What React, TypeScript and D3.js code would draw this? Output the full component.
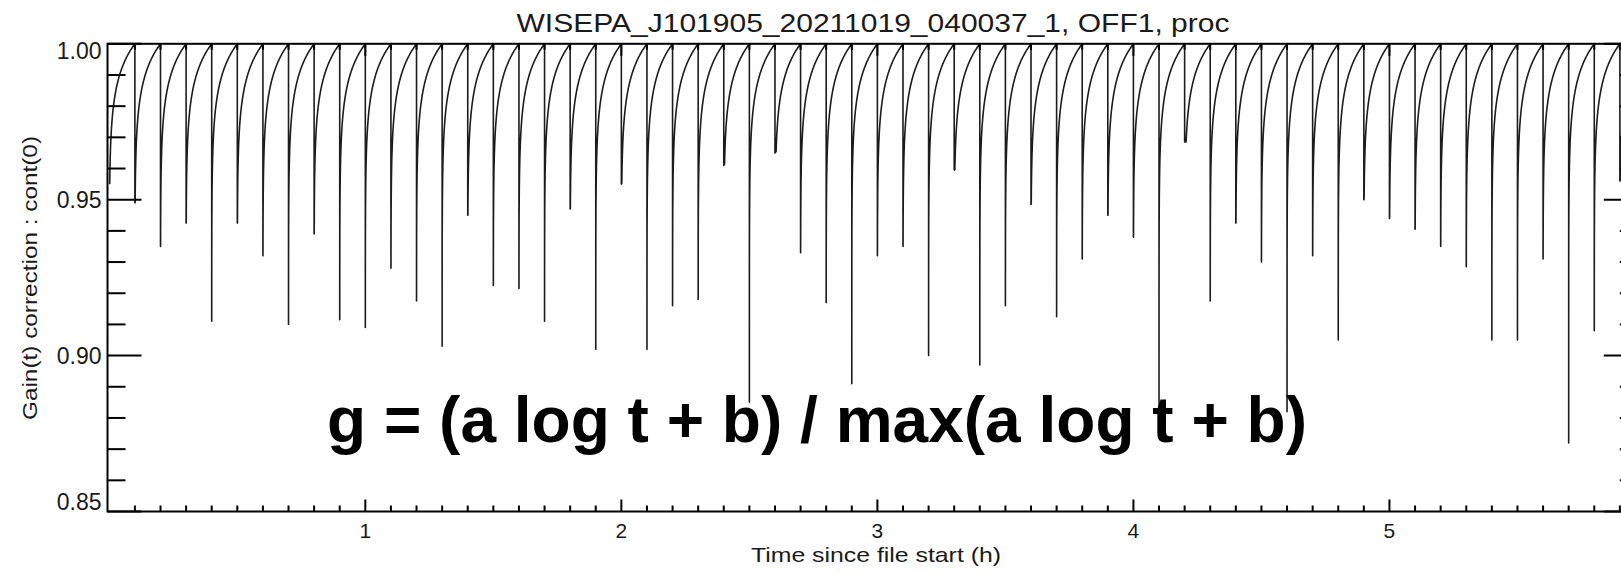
import React from 'react';
import * as d3 from 'd3';

// ---- data ----
const resetTimes = [
  0.0, 0.1, 0.2, 0.3, 0.4, 0.5, 0.6, 0.7, 0.8, 0.9,
  1.0, 1.1, 1.2, 1.3, 1.4, 1.5, 1.6, 1.7, 1.8, 1.9,
  2.0, 2.1, 2.2, 2.3, 2.4, 2.5, 2.6, 2.7, 2.8, 2.9,
  3.0, 3.1, 3.2, 3.3, 3.4, 3.5, 3.6, 3.7, 3.8, 3.9,
  4.0, 4.1, 4.2, 4.3, 4.4, 4.5, 4.6, 4.7, 4.8, 4.9,
  5.0, 5.1, 5.2, 5.3, 5.4, 5.5, 5.6, 5.7, 5.8, 5.9,
];
const dipValues = [
  0.955, 0.949, 0.935, 0.9425, 0.911, 0.9425, 0.932, 0.910, 0.939, 0.9115,
  0.909, 0.928, 0.9175, 0.903, 0.945, 0.9225, 0.9215, 0.911, 0.947, 0.902,
  0.955, 0.902, 0.916, 0.918, 0.961, 0.885, 0.965, 0.933, 0.917, 0.891,
  0.932, 0.935, 0.900, 0.9595, 0.897, 0.916, 0.9485, 0.9125, 0.931, 0.945,
  0.938, 0.882, 0.9685, 0.9175, 0.9425, 0.930, 0.882, 0.932, 0.905, 0.950,
  0.944, 0.9405, 0.935, 0.9285, 0.905, 0.905, 0.931, 0.872, 0.908, 0.956,
];
// g = (a log t + b) / max(a log t + b)
const gainA = 0.011;
const gainB = 1.0253;
const resetPeriod = 0.1;

const yMajorTicks = [0.85, 0.9, 0.95, 1.0];
const yTickLabels = ['0.85', '0.90', '0.95', '1.00'];
const xMajorTicks = [1, 2, 3, 4, 5];
const xTickLabels = ['1', '2', '3', '4', '5'];

const titleText = 'WISEPA_J101905_20211019_040037_1, OFF1, proc';
const xTitle = 'Time since file start (h)';
const yTitle = 'Gain(t) correction : cont(0)';
const annotation = 'g = (a log t + b) / max(a log t + b)';

// ---- layout ----
const W = 1621;
const H = 574;
const left = 107.5;
const right = 1637.8;
const top = 43.8;
const bottom = 511.5;
const FONT = "'Liberation Sans', Arial, Helvetica, sans-serif";

export default function App() {
  const x = d3.scaleLinear().domain([-0.007, 5.97]).range([left, right]);
  const y = d3.scaleLinear().domain([0.85, 1.0]).range([bottom, top]);

  const pts: [number, number][] = [];
  resetTimes.forEach((t0, i) => {
    const tEnd = i + 1 < resetTimes.length ? resetTimes[i + 1] : t0 + resetPeriod;
    const span = tEnd - t0;
    const maxG = gainA * Math.log(span) + gainB;
    const dip = dipValues[i];
    pts.push([t0, i === 0 ? dip : 1.0]);
    pts.push([t0, dip]);
    d3.range(0, 401).forEach((j) => {
      const dt = span * Math.pow(10, -7 + (7 * j) / 400);
      const g = (gainA * Math.log(dt) + gainB) / maxG;
      if (g > dip) pts.push([t0 + dt, g]);
    });
  });

  const line = d3
    .line<[number, number]>()
    .x((d) => x(d[0]))
    .y((d) => y(d[1]));

  const yMinor = d3.range(85, 101).map((v) => v / 100).filter((v) => Math.round(v * 100) % 5 !== 0);
  const xMinor = d3.range(1, 60).map((v) => v / 10).filter((v) => Math.round(v * 10) % 10 !== 0);

  const yLabelPos = (v: number) => Math.min(Math.max(y(v), top + 7), bottom - 10);

  return (
    <svg
      width={W}
      height={H}
      style={{ position: 'absolute', left: 0, top: 0, background: '#fff' }}
      fontFamily={FONT}
    >
      <defs>
        <clipPath id="plotclip">
          <rect x={left} y={top - 1} width={right - left} height={bottom - top + 2} />
        </clipPath>
      </defs>
      <rect x={0} y={0} width={W} height={H} fill="#fff" />

      <g clipPath="url(#plotclip)">
        <path
          d={line(pts) || ''}
          fill="none"
          stroke="#1c1c1c"
          strokeWidth={1.6}
          strokeLinejoin="round"
        />
      </g>

      {/* frame */}
      <rect x={left} y={top} width={right - left} height={bottom - top} fill="none" stroke="#000" strokeWidth={2} />

      {/* y ticks */}
      {yMajorTicks.map((v) => (
        <g key={'ym' + v}>
          <line x1={left} x2={left + 34} y1={y(v)} y2={y(v)} stroke="#000" strokeWidth={2} />
          <line x1={right} x2={right - 34} y1={y(v)} y2={y(v)} stroke="#000" strokeWidth={2} />
        </g>
      ))}
      {yMinor.map((v) => (
        <g key={'yn' + v}>
          <line x1={left} x2={left + 18} y1={y(v)} y2={y(v)} stroke="#000" strokeWidth={2} />
          <line x1={right} x2={right - 18} y1={y(v)} y2={y(v)} stroke="#000" strokeWidth={2} />
        </g>
      ))}
      {/* x ticks */}
      {xMajorTicks.map((v) => (
        <g key={'xm' + v}>
          <line x1={x(v)} x2={x(v)} y1={bottom} y2={bottom - 12} stroke="#000" strokeWidth={2} />
          <line x1={x(v)} x2={x(v)} y1={top} y2={top + 12} stroke="#000" strokeWidth={2} />
        </g>
      ))}
      {xMinor.map((v) => (
        <g key={'xn' + v}>
          <line x1={x(v)} x2={x(v)} y1={bottom} y2={bottom - 6} stroke="#000" strokeWidth={2} />
          <line x1={x(v)} x2={x(v)} y1={top} y2={top + 6} stroke="#000" strokeWidth={2} />
        </g>
      ))}

      {/* tick labels */}
      {yMajorTicks.map((v, i) => (
        <text
          key={'yl' + v}
          x={101.5}
          y={yLabelPos(v)}
          textAnchor="end"
          dominantBaseline="central"
          fontSize={23}
          fill="#1a1a1a"
        >
          {yTickLabels[i]}
        </text>
      ))}
      {xMajorTicks.map((v, i) => (
        <text key={'xl' + v} x={x(v)} y={538} textAnchor="middle" fontSize={21} fill="#1a1a1a">
          {xTickLabels[i]}
        </text>
      ))}

      {/* titles */}
      <text x={873} y={31.5} textAnchor="middle" fontSize={26} textLength={713} lengthAdjust="spacingAndGlyphs" fill="#1a1a1a">
        {titleText}
      </text>
      <text x={876} y={562} textAnchor="middle" fontSize={21} textLength={250} lengthAdjust="spacingAndGlyphs" fill="#1a1a1a">
        {xTitle}
      </text>
      <text
        transform={`translate(29.5, 278) rotate(-90)`}
        textAnchor="middle"
        dominantBaseline="central"
        fontSize={21}
        textLength={284}
        lengthAdjust="spacingAndGlyphs"
        fill="#1a1a1a"
      >
        {yTitle}
      </text>

      {/* annotation */}
      <text x={327} y={441.5} fontSize={64} fontWeight="bold" textLength={980} lengthAdjust="spacingAndGlyphs" fill="#000">
        {annotation}
      </text>
    </svg>
  );
}
